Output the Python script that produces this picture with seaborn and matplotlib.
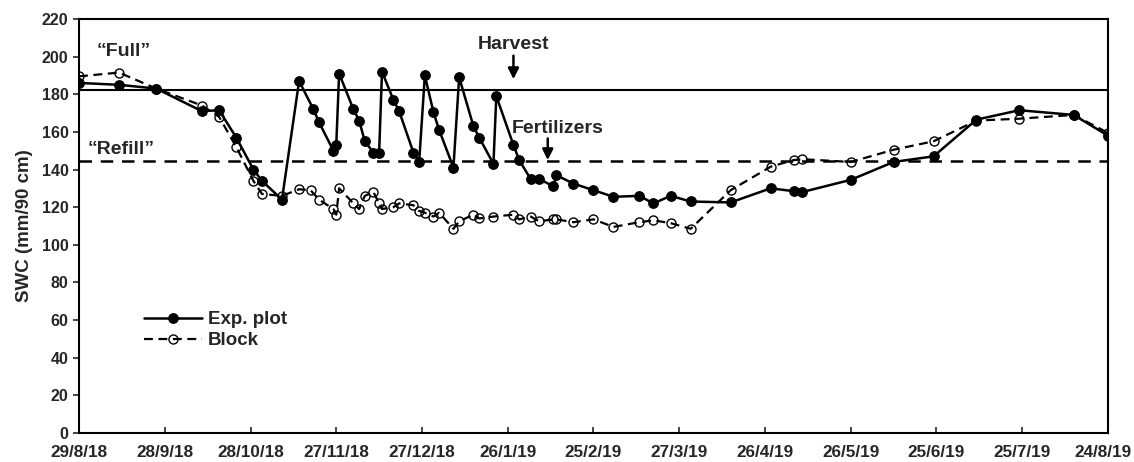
import numpy as np
import pandas as pd
import seaborn as sns
import matplotlib.pyplot as plt
import matplotlib.dates as mdates
import matplotlib.transforms as mtransforms

# soil water content, experimental plot (filled markers)
exp_dates = ['2018-08-29', '2018-09-12', '2018-09-25', '2018-10-11', '2018-10-17', '2018-10-23',
             '2018-10-29', '2018-11-01', '2018-11-08', '2018-11-14', '2018-11-19', '2018-11-21',
             '2018-11-26', '2018-11-27', '2018-11-28', '2018-12-03', '2018-12-05', '2018-12-07',
             '2018-12-10', '2018-12-12', '2018-12-13', '2018-12-17', '2018-12-19', '2018-12-24',
             '2018-12-26', '2018-12-28', '2018-12-31', '2019-01-02', '2019-01-07', '2019-01-09',
             '2019-01-14', '2019-01-16', '2019-01-21', '2019-01-22', '2019-01-28', '2019-01-30',
             '2019-02-03', '2019-02-06', '2019-02-11', '2019-02-12', '2019-02-18', '2019-02-25',
             '2019-03-04', '2019-03-13', '2019-03-18', '2019-03-24', '2019-03-31', '2019-04-14',
             '2019-04-28', '2019-05-06', '2019-05-09', '2019-05-26', '2019-06-10', '2019-06-24',
             '2019-07-09', '2019-07-24', '2019-08-12', '2019-08-24']
exp_swc = [186, 185, 183, 171, 171.5, 157,
           140, 134, 124, 187, 172, 165,
           150, 153, 191, 172, 166, 155,
           149, 149, 192, 177, 171, 149,
           144, 190, 170.5, 161, 141, 189,
           163, 157, 143, 179, 153, 145,
           135, 135, 131, 137, 132.5, 129,
           125.5, 126, 122, 126, 123, 122.5,
           130, 128.5, 128, 134.5, 144, 147,
           166.5, 171.5, 169, 158]

# block (open markers)
block_dates = ['2018-08-29', '2018-09-12', '2018-09-25', '2018-10-11', '2018-10-17', '2018-10-23',
               '2018-10-29', '2018-11-01', '2018-11-08', '2018-11-14', '2018-11-18', '2018-11-21',
               '2018-11-26', '2018-11-27', '2018-11-28', '2018-12-03', '2018-12-05', '2018-12-07',
               '2018-12-10', '2018-12-12', '2018-12-13', '2018-12-17', '2018-12-19', '2018-12-24',
               '2018-12-26', '2018-12-28', '2018-12-31', '2019-01-02', '2019-01-07', '2019-01-09',
               '2019-01-14', '2019-01-16', '2019-01-21', '2019-01-28', '2019-01-30', '2019-02-03',
               '2019-02-06', '2019-02-11', '2019-02-12', '2019-02-18', '2019-02-25', '2019-03-04',
               '2019-03-13', '2019-03-18', '2019-03-24', '2019-03-31', '2019-04-14', '2019-04-28',
               '2019-05-06', '2019-05-09', '2019-05-26', '2019-06-10', '2019-06-24', '2019-07-09',
               '2019-07-24', '2019-08-12', '2019-08-24']
block_swc = [189.5, 191.5, 183, 174, 168, 152,
             134, 127, 126, 129.5, 129, 124,
             119, 116, 130, 122, 119, 126,
             128, 122, 119, 120, 122, 121,
             118, 117, 115, 117, 108.5, 112.5,
             116, 114, 115, 116, 113.5, 115,
             112.5, 113.5, 113.5, 112, 113.5, 109.5,
             112, 113, 111.5, 108.5, 129, 141.5,
             145, 145.5, 144, 150.5, 155, 166,
             167, 169, 159.5]

full_level = 182
refill_level = 144.5
harvest_date = '2019-01-28'
fert_date = '2019-02-09'

exp = pd.DataFrame({'date': pd.to_datetime(exp_dates), 'swc': exp_swc})
block = pd.DataFrame({'date': pd.to_datetime(block_dates), 'swc': block_swc})

sns.set_style('white')
plt.rcParams['font.family'] = ['Liberation Sans', 'DejaVu Sans']
plt.rcParams['font.weight'] = 'bold'

fig = plt.figure(figsize=(11.34, 4.62), dpi=100)
ax = fig.add_axes([0.0697, 0.0628, 0.9073, 0.8962])

ax.axhline(full_level, color='black', lw=1.5, zorder=1)
ax.axhline(refill_level, color='black', lw=1.8, ls=(0, (5, 3.5)), zorder=1)

sns.lineplot(data=exp, x='date', y='swc', ax=ax, estimator=None, sort=False,
             color='black', lw=1.8, marker='o', markersize=7, markerfacecolor='black',
             markeredgecolor='black', label='Exp. plot', zorder=3)
sns.lineplot(data=block, x='date', y='swc', ax=ax, estimator=None, sort=False,
             color='black', lw=1.6, ls=(0, (4, 2.5)), marker='o', markersize=6.5,
             markerfacecolor='none', markeredgecolor='black', markeredgewidth=1.0,
             label='Block', zorder=2)

start = pd.Timestamp('2018-08-29')
ticks = [start + pd.Timedelta(days=30 * k) for k in range(13)]
ax.set_xlim(mdates.date2num(ticks[0]), mdates.date2num(ticks[-1]))
ax.set_xticks(mdates.date2num(ticks))
ax.set_xticklabels([f'{t.day}/{t.month}/{t.year % 100}' for t in ticks], fontsize=12.3, fontweight='bold')
ax.set_ylim(0, 220)
ax.set_yticks(np.arange(0, 221, 20))
ax.tick_params(axis='y', labelsize=11.5, direction='out', length=4, width=1.2, left=True)
ax.tick_params(axis='x', direction='in', length=4, width=1.2, bottom=True, pad=9)
for lab in ax.get_yticklabels():
    lab.set_fontweight('bold')
for s in ax.spines.values():
    s.set_color('black')
    s.set_linewidth(1.5)

# keep the last date label inside the figure
last = ax.get_xticklabels()[-1]
last.set_transform(last.get_transform() + mtransforms.ScaledTranslation(-5 / 100, 0, fig.dpi_scale_trans))

ax.set_xlabel('')
ax.set_ylabel('SWC (mm/90 cm)', fontsize=13.5, fontweight='bold', labelpad=6)

ax.text(mdates.date2num(pd.Timestamp('2018-09-04')), 202.5, '\u201cFull\u201d',
        fontsize=14, fontweight='bold', va='center', ha='left')
ax.text(mdates.date2num(pd.Timestamp('2018-09-01')), 150.5, '\u201cRefill\u201d',
        fontsize=14, fontweight='bold', va='center', ha='left')

hx = mdates.date2num(pd.Timestamp(harvest_date))
ax.text(hx, 206.5, 'Harvest', fontsize=14, fontweight='bold', ha='center', va='center')
ax.annotate('', xy=(hx, 188), xytext=(hx, 200.5),
            arrowprops=dict(arrowstyle='-|>', color='black', lw=1.8, mutation_scale=16,
                            shrinkA=0, shrinkB=0))
fx = mdates.date2num(pd.Timestamp(fert_date))
ax.text(fx + 3.4, 162, 'Fertilizers', fontsize=14, fontweight='bold', ha='center', va='center')
ax.annotate('', xy=(fx, 145), xytext=(fx, 156.5),
            arrowprops=dict(arrowstyle='-|>', color='black', lw=1.8, mutation_scale=16,
                            shrinkA=0, shrinkB=0))

ax.legend(loc='upper left', bbox_to_anchor=(0.047, 0.335), frameon=False, fontsize=13.5,
          handlelength=3.1, handletextpad=0.3, labelspacing=0.2)

fig.savefig('out.png', dpi=100)
